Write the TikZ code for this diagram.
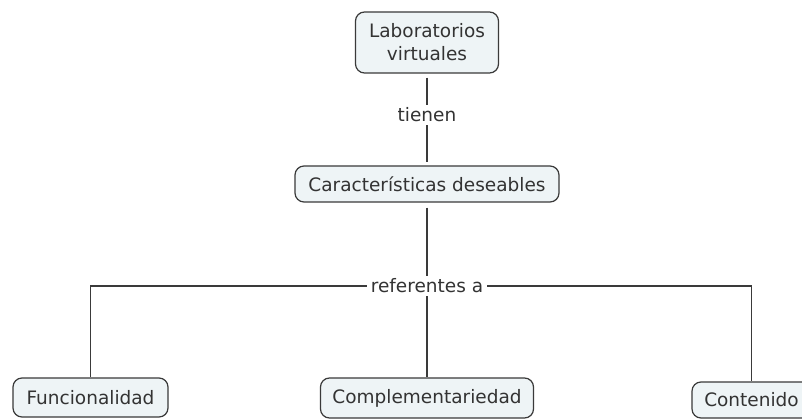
\documentclass[tikz,border=0pt]{standalone}
\usepackage{fontspec}
\setmainfont{DejaVu Sans}
\begin{document}
\begin{tikzpicture}[x=1pt,y=-1pt,
  concept/.style={draw=ink,line width=1.2pt,fill=boxfill,rounded corners=9pt,
    text=txt,font=\fontsize{18.5}{23}\selectfont,align=center,inner sep=0pt},
  linking/.style={fill=white,text=txt,font=\fontsize{18.5}{23}\selectfont,
    inner xsep=4pt,inner ysep=3pt},
  conn/.style={draw=ink,line width=1.1pt}]
\definecolor{ink}{HTML}{3A3A3A}
\definecolor{txt}{HTML}{333333}
\definecolor{boxfill}{HTML}{EEF4F6}
\useasboundingbox (0,0) rectangle (802,419);
\fill[white] (0,0) rectangle (802,419);

% concepts
\node[concept,minimum width=143pt,minimum height=61pt] (lab) at (427,42.5) {Laboratorios\\virtuales};
\node[concept,minimum width=264pt,minimum height=36pt] (car) at (427,184) {Características deseables};
\node[concept,minimum width=155pt,minimum height=39pt] (func) at (90.5,397.5) {Funcionalidad};
\node[concept,minimum width=213pt,minimum height=40pt] (comp) at (427,398) {Complementariedad};
\node[concept,minimum width=119pt,minimum height=36pt] (cont) at (751.5,400) {Contenido};

% linking phrases
\node[linking] (tie) at (427,115) {tienen};
\node[linking] (ref) at (427,286) {referentes a};

% connectors
\draw[conn,shorten <=4pt] (lab.south) -- (tie.north);
\draw[conn,shorten >=3pt] (tie.south) -- (car.north);
\draw[conn,shorten <=5pt] (car.south) -- (ref.north);
\draw[conn] (ref.south) -- (comp.north);
\draw[conn] (ref.west) -| (func.north);
\draw[conn] (ref.east) -| (cont.north);
\end{tikzpicture}
\end{document}
